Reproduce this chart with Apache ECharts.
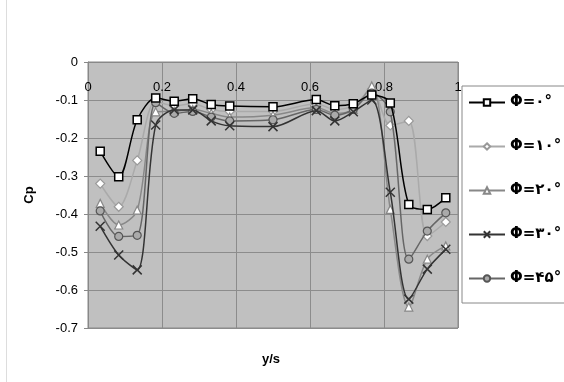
<!DOCTYPE html>
<html>
<head>
<meta charset="utf-8">
<script src="https://cdn.jsdelivr.net/npm/echarts@6/dist/echarts.min.js"></script>
<style>html,body{margin:0;padding:0;background:#fff}#c{width:564px;height:382px}</style>
</head>
<body>
<div id="c"></div>
<script>
var xVals = [0.033,0.083,0.133,0.183,0.233,0.283,0.333,0.383,0.5,0.617,0.667,0.717,0.767,0.817,0.867,0.917,0.967];
var phi0  = [-0.235,-0.302,-0.152,-0.095,-0.103,-0.097,-0.112,-0.116,-0.118,-0.099,-0.115,-0.110,-0.087,-0.108,-0.375,-0.388,-0.357];
var phi10 = [-0.320,-0.381,-0.259,-0.104,-0.115,-0.110,-0.125,-0.130,-0.130,-0.110,-0.125,-0.115,-0.072,-0.167,-0.155,-0.458,-0.421];
var phi20 = [-0.372,-0.429,-0.390,-0.131,-0.130,-0.125,-0.135,-0.145,-0.140,-0.120,-0.135,-0.125,-0.063,-0.388,-0.645,-0.519,-0.484];
var phi30 = [-0.432,-0.508,-0.547,-0.166,-0.126,-0.126,-0.155,-0.168,-0.170,-0.128,-0.155,-0.131,-0.100,-0.343,-0.624,-0.545,-0.493];
var phi45 = [-0.392,-0.459,-0.456,-0.107,-0.135,-0.130,-0.145,-0.155,-0.152,-0.125,-0.140,-0.125,-0.082,-0.131,-0.519,-0.445,-0.397];
var seriesNames = ['Φ=۰°','Φ=۱۰°','Φ=۲۰°','Φ=۳۰°','Φ=۴۵°'];
var xTickLabels = ['0','0.2','0.4','0.6','0.8','1'];
var yTickLabels = ['0','-0.1','-0.2','-0.3','-0.4','-0.5','-0.6','-0.7'];

function pts(arr){ return arr.map(function(v,i){ return [xVals[i], v]; }); }

var chart = echarts.init(document.getElementById('c'));
var xPath = 'path://M0,0L10,10M10,0L0,10';
var option = {
  animation: false,
  backgroundColor: '#fff',
  grid: {left: 88, right: 106, top: 62, bottom: 54, show: true, backgroundColor: '#c0c0c0', borderColor: '#888', borderWidth: 1},
  xAxis: {
    type: 'value', position: 'top', min: 0, max: 1, interval: 0.2,
    axisLine: {show: true, lineStyle: {color: '#888'}},
    axisTick: {show: false},
    axisLabel: {inside: true, margin: 19, color: '#000', fontSize: 13, fontFamily: 'Liberation Sans',
      formatter: function(v){ return xTickLabels[Math.round(v/0.2)]; }},
    splitLine: {show: true, lineStyle: {color: '#8c8c8c', width: 1}}
  },
  yAxis: {
    type: 'value', min: -0.7, max: 0, interval: 0.1,
    name: 'Cp', nameLocation: 'middle', nameGap: 52, nameRotate: 90,
    nameTextStyle: {color: '#000', fontSize: 13, fontWeight: 'bold', fontFamily: 'Liberation Sans'},
    axisLine: {show: true, lineStyle: {color: '#888'}},
    axisTick: {show: true, length: 4, lineStyle: {color: '#888'}},
    axisLabel: {margin: 10, color: '#000', fontSize: 13, fontFamily: 'Liberation Sans',
      formatter: function(v){ return yTickLabels[Math.round(-v/0.1)]; }},
    splitLine: {show: true, lineStyle: {color: '#8c8c8c', width: 1}}
  },
  legend: {
    orient: 'vertical', left: 462, top: 86,
    padding: [9, 40, 17, 6], itemGap: 29, itemWidth: 36, itemHeight: 8,
    borderColor: '#888', borderWidth: 1, backgroundColor: '#fff',
    textStyle: {color: '#000', fontSize: 15, fontWeight: 'bold', fontFamily: 'DejaVu Sans'},
    data: seriesNames
  },
  graphic: [
    {type: 'text', left: 262, top: 353, style: {text: 'y/s', fill: '#000', font: 'bold 13px "Liberation Sans"'}},
    {type: 'line', shape: {x1: 6.5, y1: 0, x2: 6.5, y2: 382}, style: {stroke: '#ddd', lineWidth: 1}}
  ],
  series: [
    {name: seriesNames[1], type: 'line', smooth: 0.3, data: pts(phi10), z: 3,
     symbol: 'diamond', symbolSize: 9,
     lineStyle: {color: '#aaa', width: 1.5},
     itemStyle: {color: '#fff', borderColor: '#999', borderWidth: 1.2}},
    {name: seriesNames[2], type: 'line', smooth: 0.3, data: pts(phi20), z: 4,
     symbol: 'triangle', symbolSize: 8,
     lineStyle: {color: '#888', width: 1.5},
     itemStyle: {color: '#fff', borderColor: '#888', borderWidth: 1.2}},
    {name: seriesNames[4], type: 'line', smooth: 0.3, data: pts(phi45), z: 5,
     symbol: 'circle', symbolSize: 8,
     lineStyle: {color: '#666', width: 1.5},
     itemStyle: {color: '#aaa', borderColor: '#555', borderWidth: 1.2}},
    {name: seriesNames[3], type: 'line', smooth: 0.3, data: pts(phi30), z: 6,
     symbol: xPath, symbolSize: 9,
     lineStyle: {color: '#333', width: 1.5},
     itemStyle: {color: '#333', borderColor: '#333', borderWidth: 1.5}},
    {name: seriesNames[0], type: 'line', smooth: 0.3, data: pts(phi0), z: 7,
     symbol: 'rect', symbolSize: 8,
     lineStyle: {color: '#000', width: 1.5},
     itemStyle: {color: '#fff', borderColor: '#000', borderWidth: 1.5}}
  ]
};
chart.setOption(option);
</script>
</body>
</html>
